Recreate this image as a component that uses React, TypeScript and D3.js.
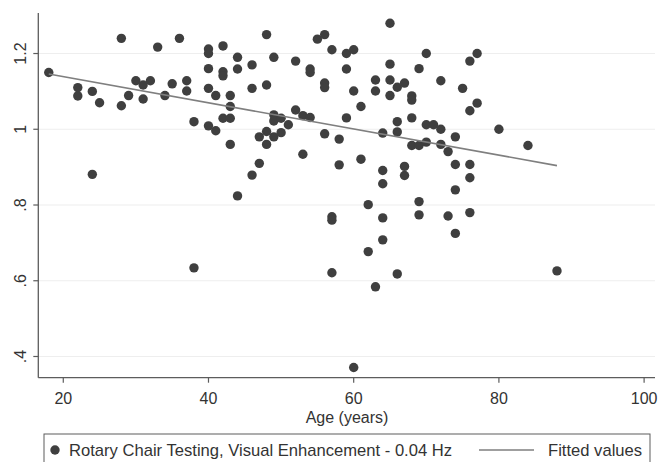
import React from 'react';
import * as d3 from 'd3';

const width = 659;
const height = 462;

// Age (years) and gain for each subject
const ages = [
  18, 22, 22, 24, 24, 25, 28, 28, 29, 30, 31, 31, 32, 33, 34, 35, 36, 37, 37, 38, 38,
  40, 40, 40, 40, 40, 41, 41, 42, 42, 42, 42, 43, 43, 43, 43, 44, 44, 44,
  46, 46, 46, 47, 47, 48, 48, 48, 48, 49, 49, 49, 49, 50, 50, 51, 52, 52, 53, 53,
  54, 54, 54, 55, 56, 56, 56, 56, 57, 57, 57, 57, 58, 58, 59, 59, 59, 60, 60, 60,
  61, 61, 62, 62, 63, 63, 63, 64, 64, 64, 64, 64, 65, 65, 65, 65, 66, 66, 66, 66,
  67, 67, 67, 68, 68, 68, 68, 69, 69, 69, 69, 70, 70, 70, 71, 72, 72, 72, 73, 73,
  74, 74, 74, 74, 75, 76, 76, 76, 76, 76, 77, 77, 80, 84, 88,
];
const gains = [
  1.15, 1.11, 1.088, 1.1, 0.881, 1.07, 1.24, 1.062, 1.089, 1.128, 1.117, 1.08, 1.128, 1.217, 1.089, 1.12, 1.24, 1.128, 1.101, 1.02, 0.634,
  1.212, 1.2, 1.16, 1.108, 1.009, 1.089, 0.996, 1.22, 1.152, 1.141, 1.029, 1.089, 1.06, 1.029, 0.96, 1.19, 1.159, 0.824,
  1.17, 1.108, 0.879, 0.98, 0.91, 1.25, 1.117, 0.994, 0.96, 1.19, 1.038, 1.022, 0.98, 1.029, 0.991, 1.012, 1.18, 1.051, 1.036, 0.934,
  1.159, 1.15, 1.031, 1.238, 1.25, 1.122, 1.11, 0.988, 1.21, 0.769, 0.76, 0.621, 0.974, 0.906, 1.2, 1.159, 1.03, 1.21, 1.101, 0.371,
  1.06, 0.921, 0.801, 0.677, 1.13, 1.101, 0.584, 0.99, 0.891, 0.856, 0.766, 0.708, 1.28, 1.172, 1.13, 1.089, 1.111, 1.02, 0.993, 0.618,
  1.122, 0.902, 0.878, 1.088, 1.077, 1.03, 0.957, 1.16, 0.957, 0.809, 0.774, 1.2, 1.012, 0.966, 1.012, 1.128, 1.0, 0.96, 0.941, 0.771,
  0.98, 0.907, 0.84, 0.725, 1.108, 1.18, 1.049, 0.907, 0.872, 0.78, 1.2, 1.069, 1.0, 0.957, 0.626,
];

// fitted line ends
const fitAges = [18, 88];
const fitValues = [1.146, 0.904];

const xTicks = [20, 40, 60, 80, 100];
const yTicks = [0.4, 0.6, 0.8, 1, 1.2];
const yTickLabels = ['.4', '.6', '.8', '1', '1.2'];

const legendPoints = 'Rotary Chair Testing, Visual Enhancement - 0.04 Hz';
const legendFit = 'Fitted values';

export default function App() {
  const left = 38.3, right = 655, top = 13, bottom = 377.7;
  const x = d3.scaleLinear().domain([16.56, 101.5]).range([left, right]);
  const y = d3.scaleLinear().domain([0.344, 1.307]).range([bottom, top]);

  const fitLine = d3.line<number>()
    .x((d, i) => x(fitAges[i]))
    .y((d) => y(d));

  const font = 'Arial, "Liberation Sans", sans-serif';

  return (
    <div style={{ position: 'fixed', left: 0, top: 0 }}>
      <svg width={width} height={height} style={{ display: 'block', background: '#fff' }}>
        {yTicks.map((t) => (
          <line key={'g' + t} x1={left} x2={right} y1={y(t)} y2={y(t)} stroke="#eeeeee" strokeWidth={1.2} />
        ))}

        {/* axes */}
        <line x1={left} x2={left} y1={top} y2={bottom} stroke="#5c5c5c" strokeWidth={1.3} />
        <line x1={left} x2={right} y1={bottom} y2={bottom} stroke="#5c5c5c" strokeWidth={1.3} />

        {yTicks.map((t, i) => (
          <g key={'y' + t}>
            <line x1={left - 5} x2={left} y1={y(t)} y2={y(t)} stroke="#5c5c5c" strokeWidth={1.2} />
            <text
              transform={`translate(${26},${y(t)}) rotate(-90)`}
              textAnchor="middle"
              fontFamily={font}
              fontSize={16}
              fill="#333"
            >
              {yTickLabels[i]}
            </text>
          </g>
        ))}

        {xTicks.map((t) => (
          <g key={'x' + t}>
            <line x1={x(t)} x2={x(t)} y1={bottom} y2={bottom + 5} stroke="#5c5c5c" strokeWidth={1.2} />
            <text x={x(t)} y={404} textAnchor="middle" fontFamily={font} fontSize={16} fill="#333">
              {t}
            </text>
          </g>
        ))}

        <text x={347} y={422.5} textAnchor="middle" fontFamily={font} fontSize={16} fill="#333">
          Age (years)
        </text>

        {ages.map((a, i) => (
          <circle key={i} cx={x(a)} cy={y(gains[i])} r={4.7} fill="#3f3f3f" />
        ))}

        <path d={fitLine(fitValues) || ''} fill="none" stroke="#7f7f7f" strokeWidth={1.6} />

        {/* legend */}
        <rect x={44} y={434} width={606} height={40} fill="#fff" stroke="#5c5c5c" strokeWidth={1} />
        <circle cx={55} cy={450} r={4.7} fill="#3f3f3f" />
        <text x={69} y={456} fontFamily={font} fontSize={16.6} fill="#333">
          {legendPoints}
        </text>
        <line x1={479} x2={534} y1={450} y2={450} stroke="#7f7f7f" strokeWidth={1.3} />
        <text x={548} y={456} fontFamily={font} fontSize={16.6} fill="#333">
          {legendFit}
        </text>
      </svg>
    </div>
  );
}
